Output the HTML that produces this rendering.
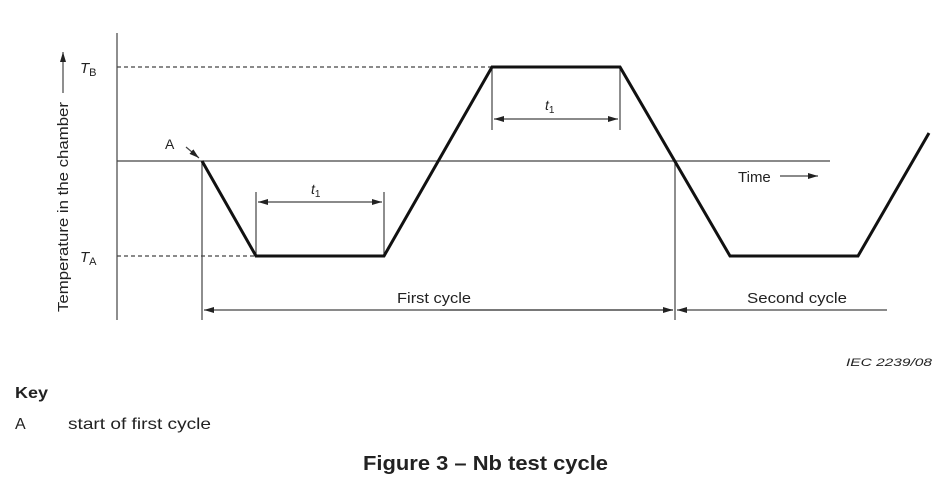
<!DOCTYPE html>
<html><head><style>
html,body{margin:0;padding:0;background:#fff;}
svg{display:block;}
text{font-family:"Liberation Sans",sans-serif;fill:#222;}
</style></head><body>
<svg width="952" height="500" viewBox="0 0 952 500" xmlns="http://www.w3.org/2000/svg">
<defs>
<marker id="ar" markerWidth="10" markerHeight="6" refX="10" refY="3" orient="auto" markerUnits="userSpaceOnUse">
<path d="M0,0 L10,3 L0,6 z" fill="#222"/></marker>
</defs>
<g stroke="#444" stroke-width="1.2" fill="none">
<line x1="117" y1="33" x2="117" y2="320"/>
<line x1="117" y1="161" x2="830" y2="161"/>
<line x1="117" y1="67" x2="492" y2="67" stroke-dasharray="4,3"/>
<line x1="117" y1="256" x2="256" y2="256" stroke-dasharray="4,3"/>
<line x1="202" y1="161" x2="202" y2="320"/>
<line x1="675" y1="161" x2="675" y2="320"/>
<line x1="256" y1="192" x2="256" y2="256"/>
<line x1="384" y1="192" x2="384" y2="256"/>
<line x1="492" y1="67" x2="492" y2="130"/>
<line x1="620" y1="67" x2="620" y2="130"/>
<line x1="887" y1="310" x2="677" y2="310" marker-end="url(#ar)"/>
<line x1="673" y1="310" x2="204" y2="310" marker-end="url(#ar)"/>
<line x1="440" y1="310" x2="673" y2="310" marker-end="url(#ar)"/>
<line x1="320" y1="202" x2="258" y2="202" marker-end="url(#ar)"/>
<line x1="320" y1="202" x2="382" y2="202" marker-end="url(#ar)"/>
<line x1="556" y1="119" x2="494" y2="119" marker-end="url(#ar)"/>
<line x1="556" y1="119" x2="618" y2="119" marker-end="url(#ar)"/>
<line x1="780" y1="176" x2="818" y2="176" marker-end="url(#ar)"/>
<line x1="63" y1="93" x2="63" y2="52" marker-end="url(#ar)"/>
<line x1="186" y1="147" x2="199" y2="158" marker-end="url(#ar)"/>
</g>
<polyline points="202,161 256,256 384,256 492,67 620,67 730,256 858,256 929,133" fill="none" stroke="#111" stroke-width="3"/>
<text x="0" y="0" font-size="15" textLength="210" lengthAdjust="spacingAndGlyphs" transform="translate(68,312) rotate(-90)">Temperature in the chamber</text>
<text x="80" y="73" font-size="15" font-style="italic">T<tspan font-size="11" font-style="normal" dy="3">B</tspan></text>
<text x="80" y="262" font-size="15" font-style="italic">T<tspan font-size="11" font-style="normal" dy="3">A</tspan></text>
<text x="165" y="149" font-size="14">A</text>
<text x="311" y="194" font-size="14" font-style="italic">t<tspan font-size="10" font-style="normal" dy="3">1</tspan></text>
<text x="545" y="110" font-size="14" font-style="italic">t<tspan font-size="10" font-style="normal" dy="3">1</tspan></text>
<text x="738" y="182" font-size="15">Time</text>
<text x="397" y="303" font-size="15" textLength="74" lengthAdjust="spacingAndGlyphs">First cycle</text>
<text x="747" y="303" font-size="15" textLength="100" lengthAdjust="spacingAndGlyphs">Second cycle</text>
<text x="846" y="366" font-size="11" font-style="italic" textLength="86" lengthAdjust="spacingAndGlyphs">IEC   2239/08</text>
<text x="15" y="398" font-size="16" font-weight="bold" textLength="33" lengthAdjust="spacingAndGlyphs">Key</text>
<text x="15" y="429" font-size="16">A</text>
<text x="68" y="429" font-size="16" textLength="143" lengthAdjust="spacingAndGlyphs">start of first cycle</text>
<text x="363" y="470" font-size="20" font-weight="bold" textLength="245" lengthAdjust="spacingAndGlyphs">Figure 3 – Nb test cycle</text>
</svg>
</body></html>
